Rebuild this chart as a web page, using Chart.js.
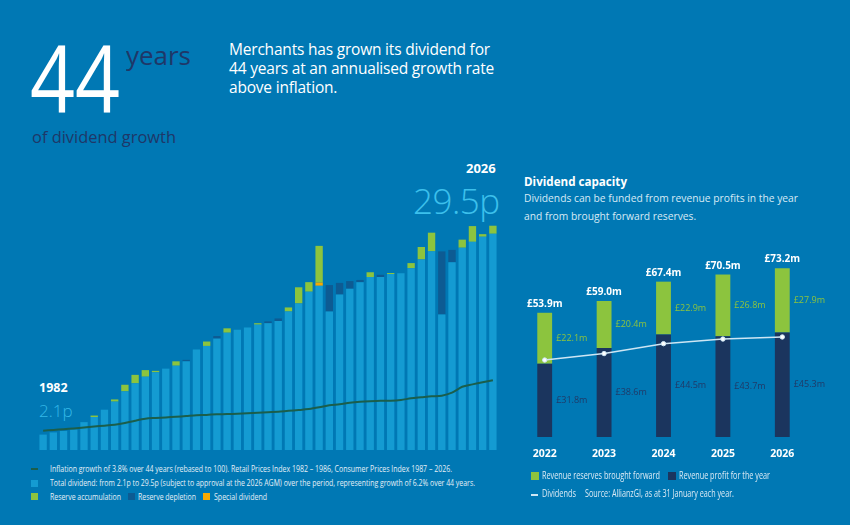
<!DOCTYPE html>
<html>
<head>
<meta charset="utf-8">
<script src="https://cdn.jsdelivr.net/npm/chart.js@4.4.1/dist/chart.umd.min.js"></script>
<style>
  html, body { margin:0; padding:0; }
  body { width:850px; height:525px; background:#0078b4; position:relative; overflow:hidden;
         font-family:"Open Sans", sans-serif; color:#fff; }
  .abs { position:absolute; white-space:nowrap; transform-origin:0 0; }
  #big { left:30px; top:30px; font-size:94px; font-weight:400; line-height:1; }
  #years { left:126px; top:38px; font-size:25px; color:#1f3768; font-weight:400; }
  #growth { left:32px; top:125px; font-size:17px; color:#1f3768; }
  #intro { left:229px; top:40px; font-size:15.5px; line-height:19px; letter-spacing:-0.2px; }
  #y2026 { left:466px; top:159px; font-size:13px; font-weight:700; }
  #v2026 { left:413px; top:177px; font-size:35px; font-weight:300; color:#3cc0ec; letter-spacing:-0.5px; }
  #y1982 { left:39px; top:379px; font-size:12.5px; font-weight:700; }
  #v1982 { left:39px; top:399px; font-size:17px; font-weight:300; color:#34b8e8; }
  .leg { font-size:9.2px; color:#e4eff7; }
  .sw { position:absolute; width:7px; height:7px; }
  #capTitle { left:524px; top:172px; font-size:13px; font-weight:700; }
  #capSub { left:524px; top:189px; font-size:11px; line-height:18px; color:#d8eaf5; }
  .rleg { font-size:10px; color:#dcebf5; }
  canvas { position:absolute; }
</style>
</head>
<body>
<div class="abs" id="big" data-w="90">44</div>
<div class="abs" id="years" data-w="65">years</div>
<div class="abs" id="growth" data-w="144">of dividend growth</div>
<div class="abs" id="intro">Merchants has grown its dividend for<br>44 years at an annualised growth rate<br>above inflation.</div>
<div class="abs" id="y2026">2026</div>
<div class="abs" id="v2026">29.5p</div>
<div class="abs" id="y1982">1982</div>
<div class="abs" id="v1982">2.1p</div>

<canvas id="longChart" width="460" height="230" style="left:38px; top:220px;"></canvas>

<div class="abs" style="left:31px; top:468px; width:7px; height:2px; background:#1b5e4b;"></div>
<div class="abs leg" data-w="402" style="left:50px; top:462px;">Inflation growth of 3.8% over 44 years (rebased to 100). Retail Prices Index 1982 – 1986, Consumer Prices Index 1987 – 2026.</div>
<div class="sw" style="left:31px; top:480px; background:#149bd2;"></div>
<div class="abs leg" data-w="425" style="left:50px; top:476px;">Total dividend: from 2.1p to 29.5p (subject to approval at the 2026 AGM) over the period, representing growth of 6.2% over 44 years.</div>
<div class="sw" style="left:31px; top:493px; background:#8cc43e;"></div>
<div class="abs leg" data-w="71" style="left:50px; top:490px;">Reserve accumulation</div>
<div class="sw" style="left:128px; top:493px; background:#0d5b93;"></div>
<div class="abs leg" data-w="58" style="left:138px; top:490px;">Reserve depletion</div>
<div class="sw" style="left:203px; top:493px; background:#f7a900;"></div>
<div class="abs leg" data-w="53" style="left:214px; top:490px;">Special dividend</div>

<div class="abs" id="capTitle" data-w="103">Dividend capacity</div>
<div class="abs" id="capSub" data-w="274">Dividends can be funded from revenue profits in the year<br>and from brought forward reserves.</div>

<canvas id="capChart" width="340" height="232" style="left:510px; top:240px;"></canvas>

<div class="sw" style="left:531px; top:472px; width:8px; height:8px; background:#8cc43e;"></div>
<div class="abs rleg" data-w="118" style="left:542px; top:468px;">Revenue reserves brought forward</div>
<div class="sw" style="left:668px; top:472px; width:8px; height:8px; background:#1b355e;"></div>
<div class="abs rleg" data-w="91" style="left:679px; top:468px;">Revenue profit for the year</div>
<div class="abs" style="left:531px; top:494px; width:7px; height:2px; background:#cde6f4;"></div>
<div class="abs rleg" data-w="34" style="left:542px; top:486px;">Dividends</div>
<div class="abs rleg" data-w="149" style="left:585px; top:486px;">Source: AllianzGI, as at 31 January each year.</div>

<script>
// squeeze text blocks to the widths they take in the original
document.querySelectorAll("[data-w]").forEach(el=>{
    const w = el.getBoundingClientRect().width;
    const target = parseFloat(el.dataset.w);
    el.style.transform = "scaleX(" + (target / w) + ")";
});

// ---- long-run dividend chart (pence per share) ----
const years = [
    "1982","1983","1984","1985","1986","1987","1988","1989","1990","1991",
    "1992","1993","1994","1995","1996","1997","1998","1999","2000","2001",
    "2002","2003","2004","2005","2006","2007","2008","2009","2010","2011",
    "2012","2013","2014","2015","2016","2017","2018","2019","2020","2021",
    "2022","2023","2024","2025","2026"
];

const totalDividend = [
    2.1, 2.4, 2.6, 2.8, 3.8, 4.5, 5.5, 6.6, 8.0, 9.1,
    10.0, 10.6, 11.1, 11.5, 12.1, 13.7, 14.2, 15.2, 16.0, 16.4,
    16.7, 17.1, 17.3, 17.6, 18.9, 20.0, 21.6, 22.4, 18.9, 21.2,
    22.0, 22.9, 23.6, 23.6, 24.0, 24.1, 24.8, 26.0, 27.1, 18.5,
    25.6, 27.6, 28.4, 29.1, 29.5
];

const specialDividend = [
    0, 0, 0, 0, 0, 0, 0, 0, 0, 0,
    0, 0, 0, 0, 0, 0, 0, 0, 0, 0,
    0, 0, 0, 0, 0, 0, 0, 0.45, 0, 0,
    0, 0, 0, 0, 0, 0, 0, 0, 0, 0,
    0, 0, 0, 0, 0
];

const reserveAccumulation = [
    0, 0, 0, 0, 0, 0.2, 0, 0.3, 0.9, 1.15,
    0.9, 0.2, 0, 0.6, 0, 0, 0.6, 0, 0.6, 0,
    0, 0.2, 0, 0, 0.55, 2.2, 1.3, 5.0, 0, 0,
    0, 0, 0.65, 0, 0.15, 0, 0.7, 1.7, 2.55, 0,
    0, 1.1, 2.15, 0.35, 1.1
];

const reserveDepletion = [
    0, 0, 0, 0, 0, 0, 0, 0, 0, 0,
    0, 0, 0, 0, 0.2, 0, 0, 0.35, 0, 0,
    0, 0, 0.25, 0.35, 0, 0, 0, 0, 3.6, 1.6,
    1.05, 0.3, 0, 0.3, 0, 0, 0, 0, 0, 8.6,
    1.7, 0, 0, 0, 0
];

// inflation index, 1982 = 100
const inflation = [
    100, 104, 108, 112, 117, 122, 126, 131, 140, 152,
    162, 166, 169, 172, 176, 180, 182, 185, 186, 188,
    191, 193, 196, 198, 203, 207, 212, 221, 232, 237,
    245, 250, 253, 255, 255, 259, 268, 273, 278, 281,
    297, 328, 340, 351, 361
];

// ---- dividend capacity chart (£m) ----
const capYears = ["2022","2023","2024","2025","2026"];
const revenueProfit = [31.8, 38.6, 44.5, 43.7, 45.3];
const reservesBroughtForward = [22.1, 20.4, 22.9, 26.8, 27.9];
const capTotals = [53.9, 59.0, 67.4, 70.5, 73.2];
const dividendsPaid = [33.4, 36.2, 40.5, 42.5, 43.4];

const penceMax = 31.38;
const indexMax = 1192;
const capMax = 78.1;

new Chart(document.getElementById("longChart"), {
    type:"bar",
    data:{
        labels:years,
        datasets:[
            { type:"line", data:inflation, yAxisID:"y2", order:0,
              borderColor:"#1b5e4b", borderWidth:2, pointRadius:0, tension:0.3, fill:false },
            { data:totalDividend, backgroundColor:"#149bd2", order:1 },
            { data:specialDividend, backgroundColor:"#f7a900", order:2 },
            { data:reserveAccumulation, backgroundColor:"#8cc43e", order:3 },
            { data:reserveDepletion, backgroundColor:"#0d5b93", order:4 }
        ]
    },
    options:{
        responsive:false,
        animation:false,
        layout:{ padding:0 },
        datasets:{ bar:{ barPercentage:0.72, categoryPercentage:1, borderWidth:0 } },
        plugins:{ legend:{ display:false }, tooltip:{ enabled:false } },
        scales:{
            x:{ display:false, stacked:true },
            y:{ display:false, stacked:true, min:0, max:penceMax },
            y2:{ display:false, min:0, max:indexMax }
        }
    }
});

const capLabels = {
    id:"capLabels",
    afterDatasetsDraw(chart){
        const ctx = chart.ctx;
        const profitMeta = chart.getDatasetMeta(1);
        const reserveMeta = chart.getDatasetMeta(2);
        ctx.save();
        for(let i=0;i<capYears.length;i++){
            const p = profitMeta.data[i];
            const r = reserveMeta.data[i];
            const half = r.width / 2;

            ctx.textAlign = "center";
            ctx.textBaseline = "alphabetic";
            ctx.fillStyle = "#ffffff";
            ctx.font = "bold 10px 'Open Sans'";
            ctx.fillText("£" + capTotals[i].toFixed(1) + "m", r.x, r.y - 6);

            ctx.font = "bold 10.5px 'Open Sans'";
            ctx.fillText(capYears[i], r.x, chart.chartArea.bottom + 20);

            ctx.textAlign = "left";
            ctx.textBaseline = "middle";
            ctx.font = "9px 'Open Sans'";
            ctx.fillStyle = "#8cc43e";
            ctx.fillText("£" + reservesBroughtForward[i].toFixed(1) + "m", r.x + half + 4, (r.y + r.base) / 2);
            ctx.fillStyle = "#1f3a68";
            ctx.fillText("£" + revenueProfit[i].toFixed(1) + "m", p.x + half + 4, (p.y + p.base) / 2);
        }
        ctx.restore();
    }
};

new Chart(document.getElementById("capChart"), {
    type:"bar",
    data:{
        labels:capYears,
        datasets:[
            { type:"line", data:dividendsPaid, yAxisID:"y2", order:0,
              borderColor:"#cde6f4", borderWidth:1.5, tension:0,
              pointRadius:2.2, pointBackgroundColor:"#ffffff", pointBorderColor:"#cde6f4", pointBorderWidth:1 },
            { data:revenueProfit, backgroundColor:"#1b355e", order:1 },
            { data:reservesBroughtForward, backgroundColor:"#8cc43e", order:2 }
        ]
    },
    options:{
        responsive:false,
        animation:false,
        layout:{ padding:{ left:2, right:38, top:17, bottom:35 } },
        datasets:{ bar:{ barPercentage:0.25, categoryPercentage:1, borderWidth:0 } },
        plugins:{ legend:{ display:false }, tooltip:{ enabled:false } },
        scales:{
            x:{ display:false, stacked:true },
            y:{ display:false, stacked:true, min:0, max:capMax },
            y2:{ display:false, min:0, max:capMax }
        }
    },
    plugins:[capLabels]
});
</script>
</body>
</html>
